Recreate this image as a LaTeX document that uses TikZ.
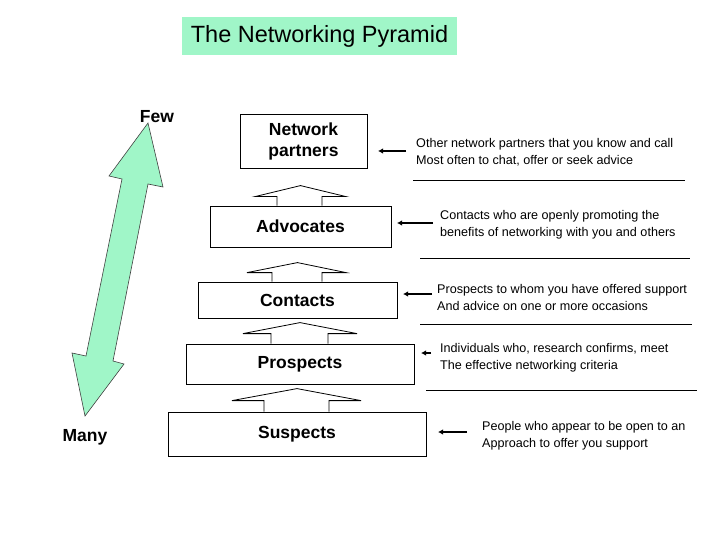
\documentclass[tikz,border=0pt]{standalone}
\usepackage{fontspec}
\setmainfont{Liberation Sans}
\usetikzlibrary{arrows.meta}
\definecolor{mint}{RGB}{160,246,200}
\begin{document}
\begin{tikzpicture}[x=1pt,y=-1pt,
  box/.style={draw, line width=0.8pt, inner sep=0pt, font=\fontsize{17.5}{21}\selectfont\bfseries, align=center},
  lbl/.style={inner sep=0pt, font=\fontsize{17.5}{21}\selectfont\bfseries},
  desc/.style={anchor=west, inner sep=0pt, align=left, font=\fontsize{12.6}{17}\selectfont},
  sep/.style={line width=0.8pt},
  ptr/.style={line width=1.8pt, -{Latex[length=5pt,width=5.5pt]}},
  chev/.style={line width=0.8pt}]
\useasboundingbox (0,0) rectangle (720,540);

% title
\node[fill=mint, minimum width=275pt, minimum height=38pt, inner sep=0pt,
      font=\fontsize{23.5}{28}\selectfont] (title) at (319.5,36) {The Networking Pyramid};

% left double arrow
\draw[fill=mint, draw=black!75, line width=0.6pt]
  (148,123) -- (163,187) -- (148,184) -- (113,361) -- (124,364) -- (85,416)
  -- (72,353) -- (86,356) -- (122,179) -- (109,176) -- cycle;
\node[lbl] (few) at (157,117) {Few};
\node[lbl] (many) at (85,437) {Many};

% pyramid boxes
\node[box, minimum width=127pt, minimum height=54pt] (np)  at (303.5,141) {Network\\partners};
\node[box, minimum width=181pt, minimum height=41pt] (adv) at (300.5,226.5) {Advocates};
\node[box, minimum width=199pt, minimum height=36pt] (con) at (297.5,300) {Contacts};
\node[box, minimum width=228pt, minimum height=40pt] (pro) at (300,364) {Prospects};
\node[box, minimum width=258pt, minimum height=44pt] (sus) at (297,434) {Suspects};

% chevrons
\begin{scope}[shift={(adv.north)}]
  \draw[chev] (-23.5,0) -- (-23.5,-9) -- (-45.5,-9) -- (0,-20) -- (45.5,-9) -- (21.5,-9) -- (21.5,0);
\end{scope}
\begin{scope}[shift={(con.north)}]
  \draw[chev] (-25.5,0) -- (-25.5,-9) -- (-50.5,-9) -- (0,-19) -- (48.5,-9) -- (24.5,-9) -- (24.5,0);
\end{scope}
\begin{scope}[shift={(pro.north)}]
  \draw[chev] (-29,0) -- (-29,-10) -- (-57,-10) -- (0,-21) -- (57,-10) -- (28,-10) -- (28,0);
\end{scope}
\begin{scope}[shift={(sus.north)}]
  \draw[chev] (-33,0) -- (-33,-11) -- (-65,-11) -- (0,-23) -- (64,-11) -- (32,-11) -- (32,0);
\end{scope}

% descriptions
\node[desc] (dnp) at (416,152) {Other network partners that you know and call\\Most often to chat, offer or seek advice};
\node[desc] (dadv) at (440,225) {Contacts who are openly promoting the\\benefits of networking with you and others};
\node[desc] (dcon) at (437,297) {Prospects to whom you have offered support\\And advice on one or more occasions};
\node[desc] (dpro) at (440,358) {Individuals who, research confirms, meet\\The effective networking criteria};
\node[desc] (dsus) at (482,436) {People who appear to be open to an\\Approach to offer you support};

% separators
\draw[sep] (413,180) -- (685,180);
\draw[sep] (420,258) -- (690,258);
\draw[sep] (420,324) -- (692,324);
\draw[sep] (426,390) -- (697,390);

% pointer arrows
\coordinate (anp1) at (406,151);  \coordinate (anp2) at (378,151);
\coordinate (aad1) at (433,223);  \coordinate (aad2) at (397,223);
\coordinate (aco1) at (432,294);  \coordinate (aco2) at (403,294);
\coordinate (apr1) at (431,353);  \coordinate (apr2) at (421,353);
\coordinate (asu1) at (467,432);  \coordinate (asu2) at (438,432);
\draw[ptr] (anp1) -- (anp2);
\draw[ptr] (aad1) -- (aad2);
\draw[ptr] (aco1) -- (aco2);
\draw[ptr] (apr1) -- (apr2);
\draw[ptr] (asu1) -- (asu2);
\end{tikzpicture}
\end{document}
